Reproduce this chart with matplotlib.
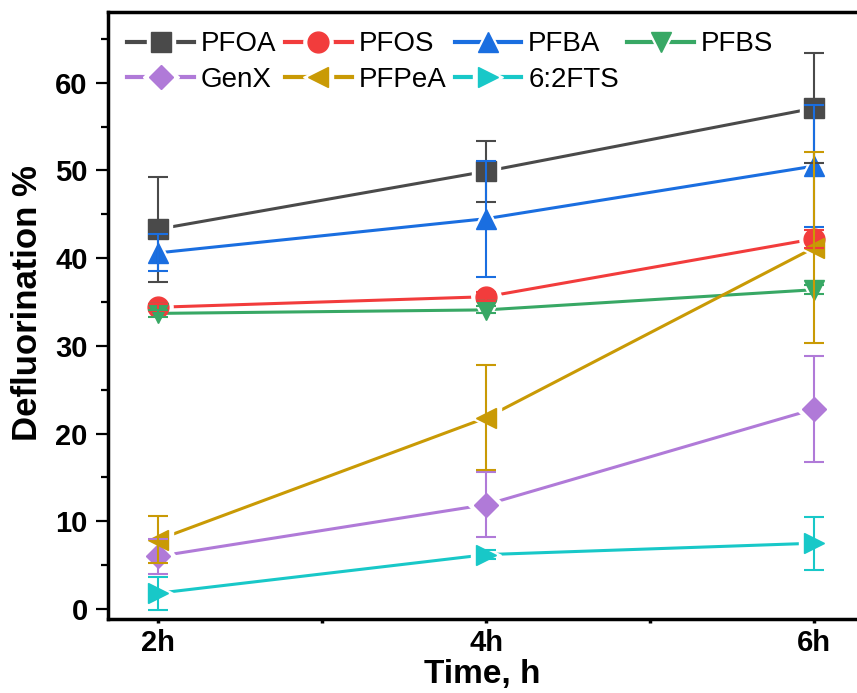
import matplotlib.pyplot as plt
from matplotlib.lines import Line2D
from matplotlib.legend_handler import HandlerTuple
from matplotlib.ticker import FixedLocator, MultipleLocator

plt.rcParams['font.family'] = ['Liberation Sans', 'DejaVu Sans']

# time points (h)
tempo = [2, 4, 6]
rotulos_x = ['2h', '4h', '6h']

# defluorination % and error per compound
pfoa = [43.3, 49.9, 57.1]
pfoa_err = [6.0, 3.5, 6.3]
pfos = [34.4, 35.6, 42.2]
pfos_err = [0.4, 0.5, 1.0]
pfba = [40.6, 44.5, 50.5]
pfba_err = [2.1, 6.6, 7.0]
pfbs = [33.7, 34.1, 36.4]
pfbs_err = [0.4, 0.4, 0.5]
genx = [6.0, 11.9, 22.8]
genx_err = [2.0, 3.7, 6.0]
pfpea = [7.9, 21.8, 41.2]
pfpea_err = [2.7, 6.0, 10.9]
fts = [1.8, 6.2, 7.5]
fts_err = [1.9, 0.5, 3.0]

# nome, dados, erro, cor, marcador, tamanho
series = [
    ('PFOA', pfoa, pfoa_err, '#4a4a4a', 's', 14),
    ('PFOS', pfos, pfos_err, '#f23c3c', 'o', 15),
    ('PFBA', pfba, pfba_err, '#1a6ee0', '^', 15),
    ('PFBS', pfbs, pfbs_err, '#38a865', 'v', 15),
    ('GenX', genx, genx_err, '#b07ad8', 'D', 12.5),
    ('PFPeA', pfpea, pfpea_err, '#c99a05', '<', 15),
    ('6:2FTS', fts, fts_err, '#18c8c8', '>', 15),
]

fig = plt.figure(figsize=(8.57, 6.93), dpi=100)
ax = fig.add_axes([0.126, 0.1068, 0.874, 0.876])

handles = {}
for i, (nome, y, err, cor, mk, ms) in enumerate(series):
    z = 2 + i * 0.1
    # linha com "buraco" em volta do marcador, estilo Origin
    ax.plot(tempo, y, color=cor, linewidth=2.2, zorder=z)
    ax.plot(tempo, y, linestyle='none', marker=mk, markersize=ms + 6,
            color='white', markeredgecolor='white', zorder=z + 0.01)
    ax.plot(tempo, y, linestyle='none', marker=mk, markersize=ms,
            color=cor, zorder=3 + i * 0.1)
    ax.errorbar(tempo, y, yerr=err, fmt='none', ecolor=cor, elinewidth=1.5,
                capsize=7, capthick=1.5, zorder=4 + i * 0.1)
    h_lin = Line2D([], [], color=cor, linewidth=3)
    h_buraco = Line2D([], [], linestyle='none', marker=mk, markersize=ms + 6,
                      color='white', markeredgecolor='white')
    h_mk = Line2D([], [], linestyle='none', marker=mk, markersize=ms, color=cor)
    handles[nome] = (h_lin, h_buraco, h_mk)

# Origin preenche a legenda por linha
ordem = ['PFOA', 'GenX', 'PFOS', 'PFPeA', 'PFBA', '6:2FTS', 'PFBS']
ax.legend([handles[n] for n in ordem], ordem, loc='upper left', ncol=4,
          frameon=False, fontsize=20, handlelength=2.4, handletextpad=0.25,
          columnspacing=0.3, labelspacing=0.35, borderaxespad=0.3,
          handler_map={tuple: HandlerTuple(ndivide=1, pad=0)})

ax.set_xlim(1.695, 6.26)
ax.set_ylim(-1.14, 68.07)
ax.xaxis.set_major_locator(FixedLocator(tempo))
ax.set_xticklabels(rotulos_x)
ax.xaxis.set_minor_locator(FixedLocator([3, 5]))
ax.yaxis.set_major_locator(FixedLocator([0, 10, 20, 30, 40, 50, 60]))
ax.yaxis.set_minor_locator(MultipleLocator(5))

ax.spines['right'].set_visible(False)
for s in ['left', 'bottom', 'top']:
    ax.spines[s].set_linewidth(2.5)
ax.tick_params(axis='y', which='major', direction='out', length=8.5, width=1.6,
               pad=6, labelsize=21)
ax.tick_params(axis='y', which='minor', direction='out', length=5, width=1.6)
ax.tick_params(axis='x', which='both', direction='out', length=3, width=2.5,
               pad=4, labelsize=21)
for lab in ax.get_xticklabels() + ax.get_yticklabels():
    lab.set_fontweight('bold')

ax.set_xlabel('Time, h', fontsize=24, fontweight='bold', labelpad=2)
ax.set_ylabel('Defluorination %', fontsize=25, fontweight='bold')
ax.yaxis.set_label_coords(-0.086, 0.52)

fig.savefig('out.png', dpi=100)
